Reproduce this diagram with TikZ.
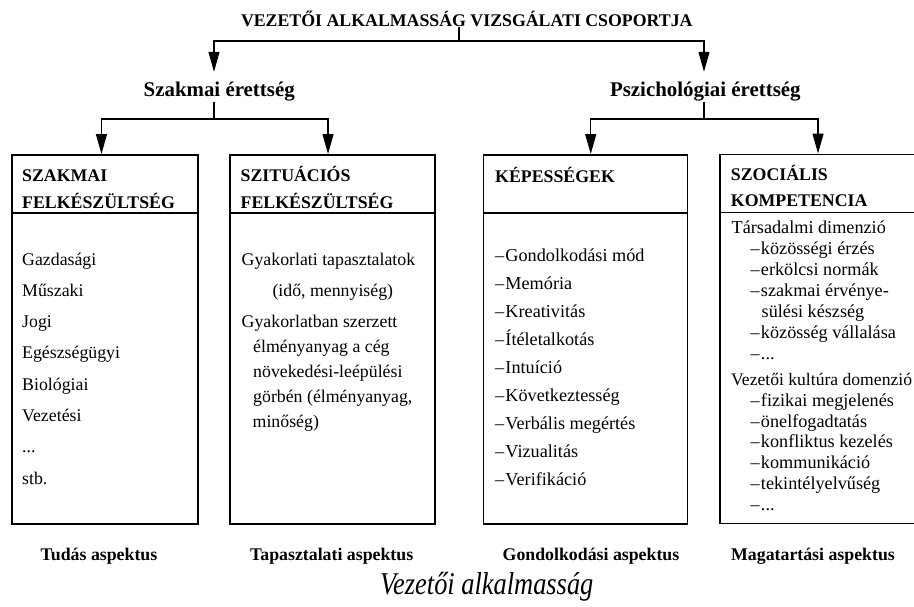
\documentclass[tikz,border=0pt]{standalone}
\usepackage{fontspec}
\setmainfont{Liberation Serif}
\usetikzlibrary{arrows.meta}

\newcommand{\itemdash}{\makebox[10.3pt][l]{–}}

\begin{document}
\begin{tikzpicture}[x=1pt,y=-1pt,
  conn/.style={line width=1.3pt},
  arr/.style={conn, -{Triangle[length=20pt,width=11pt]}},
  panel/.style={draw, line width=1.5pt, minimum width=#1, minimum height=369pt,
    anchor=north west, inner sep=0pt},
  ttl/.style={font=\fontsize{17.8}{20}\selectfont\bfseries, inner sep=0pt, anchor=base},
  hd/.style={font=\fontsize{20.9}{24}\selectfont\bfseries, anchor=base,
    text height=18pt, text depth=0pt, inner xsep=0pt, inner ysep=6pt},
  headtxt/.style={font=\fontsize{17.8}{20}\selectfont\bfseries, inner sep=0pt, anchor=base west},
  txt/.style={font=\fontsize{17.8}{20}\selectfont, inner sep=0pt, anchor=base west},
  txtb/.style={font=\fontsize{18.2}{20}\selectfont, inner sep=0pt, anchor=base west},
  asp/.style={font=\fontsize{17.8}{20}\selectfont\bfseries, inner sep=0pt, anchor=base}]

\useasboundingbox (0,0) rectangle (914,606);
\clip (0,0) rectangle (914,606);

% title and the two maturity headings
\node[ttl] (t) at (466.8,26.7) {VEZETŐI ALKALMASSÁG VIZSGÁLATI CSOPORTJA};
\node[hd] (h1) at (219.2,96) {Szakmai érettség};
\node[hd] (h2) at (705.3,96) {Pszichológiai érettség};

% the four panels
\node[panel=186pt] (b1) at (11,154) {};
\node[panel=205pt] (b2) at (229,154) {};
\node[panel=204pt] (b3) at (482.7,154) {};
\node[panel=205pt] (b4) at (719,153.5) {};
\foreach \b in {b1,b2,b3,b4}
  \draw[line width=1.5pt] ([yshift=-59pt]\b.north west) -- ([yshift=-59pt]\b.north east);

% tree connectors
\coordinate (tj) at (459,41);
\draw[conn] (t.south -| tj) -- (tj);
\draw[arr] (tj) -| ([xshift=-5.2pt]h1.north);
\draw[arr] (tj) -| ([xshift=-1.3pt]h2.north);

\coordinate (j1) at (214,119);
\draw[conn] ([xshift=-5.2pt]h1.south) -- (j1);
\draw[arr] (j1) -| ([xshift=-3.3pt]b1.north);
\draw[arr] (j1) -| ([xshift=-4.2pt]b2.north);

\coordinate (j2) at (704,119);
\draw[conn] ([xshift=-1.3pt]h2.south) -- (j2);
\draw[arr] (j2) -| ([xshift=5.3pt]b3.north);
\draw[arr] (j2) -| ([xshift=-4.2pt]b4.north);

% panel 1
\node[headtxt] (c1a) at (22,181.5) {SZAKMAI};
\node[headtxt] (c1b) at (22,208) {FELKÉSZÜLTSÉG};
\node[txt] (p1a) at (22,265) {Gazdasági};
\node[txt] (p1b) at (22,296.3) {Műszaki};
\node[txt] (p1c) at (22,327.6) {Jogi};
\node[txt] (p1d) at (22,358.9) {Egészségügyi};
\node[txt] (p1e) at (22,390.2) {Biológiai};
\node[txt] (p1f) at (22,421.5) {Vezetési};
\node[txt] (p1g) at (22,452.8) {...};
\node[txt] (p1h) at (22,484.1) {stb.};

% panel 2
\node[headtxt] (c2a) at (240.5,181.5) {SZITUÁCIÓS};
\node[headtxt] (c2b) at (240.5,208) {FELKÉSZÜLTSÉG};
\node[txt] (p2a) at (241.5,265) {Gyakorlati tapasztalatok};
\node[txt] (p2b) at (272.3,296.3) {(idő, mennyiség)};
\node[txt] (p2c) at (241.5,327) {Gyakorlatban szerzett};
\node[txt] (p2d) at (253,352) {élményanyag a cég};
\node[txt] (p2e) at (253,377) {növekedési-leépülési};
\node[txt] (p2f) at (253,402) {görbén (élményanyag,};
\node[txt] (p2g) at (252.5,427) {minőség)};

% panel 3
\node[headtxt] (c3a) at (495,182) {KÉPESSÉGEK};
\node[txtb] (p3a) at (495,261) {\itemdash Gondolkodási mód};
\node[txtb] (p3b) at (495,289) {\itemdash Memória};
\node[txtb] (p3c) at (495,317) {\itemdash Kreativitás};
\node[txtb] (p3d) at (495,345) {\itemdash Ítéletalkotás};
\node[txtb] (p3e) at (495,373) {\itemdash Intuíció};
\node[txtb] (p3f) at (495,401) {\itemdash Következtesség};
\node[txtb] (p3g) at (495,429) {\itemdash Verbális megértés};
\node[txtb] (p3h) at (495,457) {\itemdash Vizualitás};
\node[txtb] (p3i) at (495,485) {\itemdash Verifikáció};

% panel 4
\node[headtxt] (c4a) at (730.7,180) {SZOCIÁLIS};
\node[headtxt] (c4b) at (730.7,206) {KOMPETENCIA};
\node[txtb] (p4a) at (731.5,233.5) {Társadalmi dimenzió};
\node[txtb] (p4b) at (750.5,254.5) {\itemdash közösségi érzés};
\node[txtb] (p4c) at (750.5,275.5) {\itemdash erkölcsi normák};
\node[txtb] (p4d) at (750.5,296.5) {\itemdash szakmai érvénye-};
\node[txtb] (p4e) at (761.5,317.5) {sülési készség};
\node[txtb] (p4f) at (750.5,338.5) {\itemdash közösség vállalása};
\node[txtb] (p4g) at (750.5,359.5) {\itemdash ...};
\node[txtb, font=\fontsize{17.6}{20}\selectfont] (p4h) at (731,385.5) {Vezetői kultúra domenzió};
\node[txtb] (p4i) at (750.5,406.3) {\itemdash fizikai megjelenés};
\node[txtb] (p4j) at (750.5,427) {\itemdash önelfogadtatás};
\node[txtb] (p4k) at (750.5,447.8) {\itemdash konfliktus kezelés};
\node[txtb] (p4l) at (750.5,468.6) {\itemdash kommunikáció};
\node[txtb] (p4m) at (750.5,489.4) {\itemdash tekintélyelvűség};
\node[txtb] (p4n) at (750.5,510.2) {\itemdash ...};

% aspect labels and caption
\node[asp] (a1) at (99,560) {Tudás aspektus};
\node[asp] (a2) at (331.7,560) {Tapasztalati aspektus};
\node[asp] (a3) at (591,560) {Gondolkodási aspektus};
\node[asp] (a4) at (813,560) {Magatartási aspektus};
\node[anchor=base, inner sep=0pt, font=\fontsize{26.4}{30}\selectfont\itshape] (capt)
  at (486.7,594) {\scalebox{1}[1.2]{Vezetői alkalmasság}};

\end{tikzpicture}
\end{document}
